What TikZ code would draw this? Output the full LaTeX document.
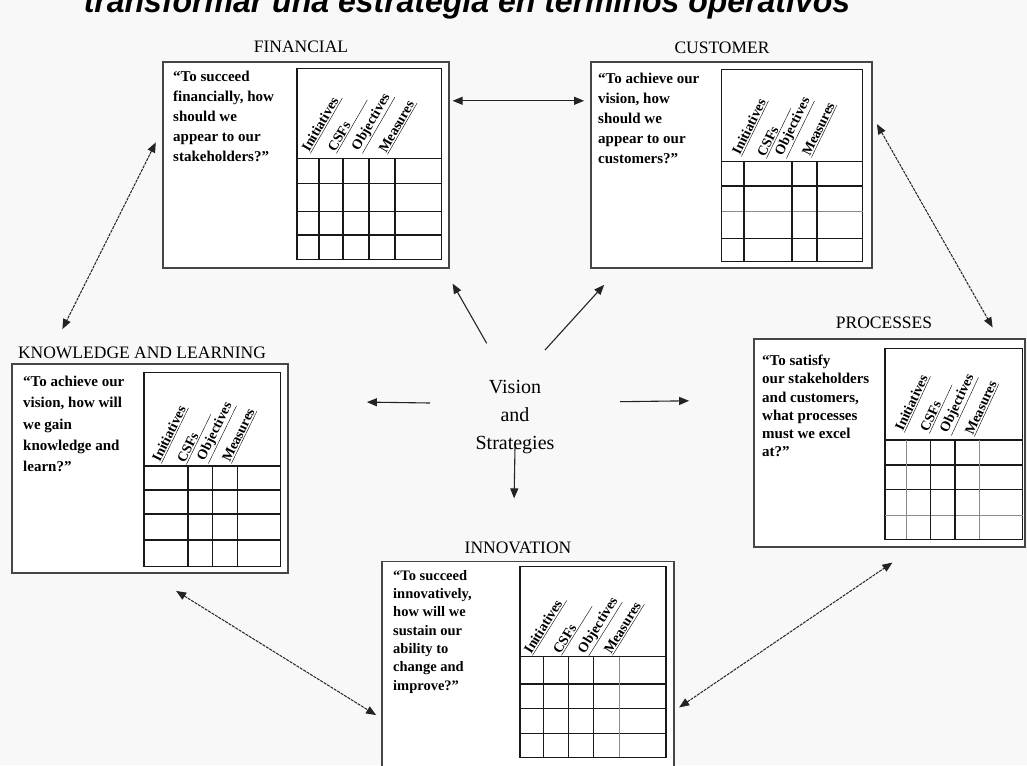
\documentclass[tikz,border=0pt]{standalone}
\usepackage{fontspec}
\setmainfont{Liberation Serif}
\newfontfamily\arialf{Liberation Sans}
\usetikzlibrary{arrows.meta,calc}
\definecolor{bg}{RGB}{248,248,248}
\definecolor{boxline}{RGB}{70,70,70}
\definecolor{gridline}{RGB}{25,25,25}
\definecolor{faint}{RGB}{140,140,140}
\definecolor{arrowc}{RGB}{35,35,35}
\tikzset{
  card/.style={draw=boxline, line width=1.8pt, fill=white, inner sep=0pt},
  grid/.style={draw=gridline, line width=1.2pt},
  fgrid/.style={draw=faint, line width=0.9pt},
  hdr/.style={rotate=#1, anchor=south west, inner sep=0pt, font=\fontsize{14}{14}\selectfont\bfseries},
  hdr/.default=60,
  body/.style={anchor=north west, align=left, inner sep=0pt},
  ttl/.style={inner sep=0pt, font=\fontsize{17.5}{20}\selectfont},
  arr/.style={-{Triangle[length=10pt,width=8pt]}, line width=1.1pt, draw=arrowc},
  darr/.style={{Triangle[length=10pt,width=8pt]}-{Triangle[length=10pt,width=8pt]}, line width=1pt, draw=arrowc},
  ddarr/.style={darr, dash pattern=on 3pt off 1pt}
}
\begin{document}
\begin{tikzpicture}[x=1pt,y=-1pt]
\clip (0,0) rectangle (1027,765);
\fill[bg] (0,0) rectangle (1027,765);

% top title (cut off)
\node[anchor=base, inner sep=0pt, font=\arialf\bfseries\itshape\fontsize{32}{36}\selectfont] (title) at (467,13) {transformar una estrategia en términos operativos};

% ---------- FINANCIAL ----------
\node[card, minimum width=286, minimum height=206] (fin) at (306,165) {};
\node[ttl] (finT) at (301,47) {FINANCIAL};
\draw[grid] (297,68.3) rectangle (441.7,259.3);
\foreach \y in {158.3,183.3,211.7,235} \draw[grid] (297,\y) -- (441.7,\y);
\foreach \x in {319,343,369,395} \draw[grid] (\x,158.3) -- (\x,259.3);
\node[hdr=60] (finH1) at (311,154) {\underline{Initiatives\hspace{4pt}}};
\node[hdr=60] (finH2) at (337,154) {\underline{CSFs\hspace{30pt}}};
\node[hdr=60] (finH3) at (363,154) {\underline{Objectives\hspace{2pt}}};
\node[hdr=60] (finH4) at (388,155) {\underline{Measures\hspace{2pt}}};
\node[body, font=\fontsize{15}{20}\selectfont\bfseries] (finQ) at (173,71) {“To succeed\\financially, how\\should we\\appear to our\\stakeholders?”};

% ---------- CUSTOMER ----------
\node[card, minimum width=281, minimum height=206] (cus) at (731.5,165) {};
\node[ttl] (cusT) at (722,48) {CUSTOMER};
\draw[grid] (721.7,69.3) rectangle (862.7,261.7);
\draw[grid] (721.7,161.7) -- (862.7,161.7);
\draw[grid] (721.7,186) -- (862.7,186);
\draw[fgrid] (721.7,211.7) -- (862.7,211.7);
\draw[grid] (721.7,238.3) -- (862.7,238.3);
\foreach \x in {744,792,817} \draw[grid] (\x,161.7) -- (\x,261.7);
\node[hdr=64] (cusH1) at (742,157) {\underline{Initiatives\hspace{2pt}}};
\node[hdr=64] (cusH2) at (767,159) {\underline{CSFs\hspace{24pt}}};
\node[hdr=64] (cusH3) at (787,159) {\underline{Objectives\hspace{1pt}}};
\node[hdr=64] (cusH4) at (812,158) {\underline{Measures\hspace{1pt}}};
\node[body, font=\fontsize{15}{20}\selectfont\bfseries] (cusQ) at (598,73) {“To achieve our\\vision, how\\should we\\appear to our\\customers?”};

% ---------- KNOWLEDGE AND LEARNING ----------
\node[card, minimum width=276, minimum height=209] (know) at (150,468.5) {};
\node[ttl] (knowT) at (142,353) {KNOWLEDGE AND LEARNING};
\draw[grid] (144,372.7) rectangle (280.7,566.7);
\foreach \y in {466,490,514,540} \draw[grid] (144,\y) -- (280.7,\y);
\foreach \x in {188,212.3,237.7} \draw[grid] (\x,466) -- (\x,566.7);
\node[hdr=64] (knowH1) at (162,464) {\underline{Initiatives\hspace{2pt}}};
\node[hdr=64] (knowH2) at (187,465) {\underline{CSFs\hspace{24pt}}};
\node[hdr=64] (knowH3) at (209,464) {\underline{Objectives\hspace{1pt}}};
\node[hdr=64] (knowH4) at (232,464) {\underline{Measures\hspace{1pt}}};
\node[body, font=\fontsize{15}{21.2}\selectfont\bfseries] (knowQ) at (23,376) {“To achieve our\\vision, how will\\we gain\\knowledge and\\learn?”};

% ---------- PROCESSES ----------
\node[card, minimum width=271, minimum height=207.4] (proc) at (889.5,443) {};
\node[ttl] (procT) at (884,323) {PROCESSES};
\draw[grid] (885,348.3) rectangle (1022.7,539.3);
\draw[grid] (885,440) -- (1022.7,440);
\draw[grid] (885,465) -- (1022.7,465);
\draw[grid] (885,489.3) -- (1022.7,489.3);
\draw[fgrid] (885,515) -- (1022.7,515);
\draw[fgrid] (906.7,440) -- (906.7,539.3);
\draw[grid] (930.7,440) -- (930.7,539.3);
\draw[grid] (955,440) -- (955,539.3);
\draw[fgrid] (979.3,440) -- (979.3,539.3);
\node[hdr=65] (procH1) at (905,433) {\underline{Initiatives\hspace{2pt}}};
\node[hdr=65] (procH2) at (930,434) {\underline{CSFs\hspace{22pt}}};
\node[hdr=65] (procH3) at (952,436) {\underline{Objectives\hspace{1pt}}};
\node[hdr=65] (procH4) at (975,437) {\underline{Measures\hspace{1pt}}};
\node[body, font=\fontsize{15}{18.2}\selectfont\bfseries] (procQ) at (762,355) {“To satisfy\\our stakeholders\\and customers,\\what processes\\must we excel\\at?”};

% ---------- INNOVATION ----------
\node[card, minimum width=292.3, minimum height=223.6] (inn) at (527.85,673.2) {};
\node[ttl] (innT) at (518,548) {INNOVATION};
\draw[grid] (520,566.7) rectangle (666,757.3);
\foreach \y in {656.7,684,708.3,733.3} \draw[grid] (520,\y) -- (666,\y);
\foreach \x in {543.3,568.3,593.3} \draw[grid] (\x,656.7) -- (\x,757.3);
\draw[fgrid] (619.3,656.7) -- (619.3,757.3);
\node[hdr=58] (innH1) at (533,656) {\underline{Initiatives\hspace{5pt}}};
\node[hdr=58] (innH2) at (562,656) {\underline{CSFs\hspace{26pt}}};
\node[hdr=58] (innH3) at (589,657) {\underline{Objectives\hspace{1pt}}};
\node[hdr=58] (innH4) at (613,656) {\underline{Measures\hspace{3pt}}};
\node[body, font=\fontsize{14.5}{18.3}\selectfont\bfseries] (innQ) at (393,570) {“To succeed\\innovatively,\\how will we\\sustain our\\ability to\\change and\\improve?”};

% ---------- CENTER ----------
\node[anchor=north, align=center, inner sep=0pt, font=\fontsize{20}{28}\selectfont] (vs) at (515,380) {Vision\\and\\Strategies};

\draw[arr] ($(vs.north)+(-28.3,-36.7)$) -- ($(fin.south east)+(2.7,14.7)$);
\draw[arr] ($(vs.north)+(30,-30)$) -- ($(cus.south west)+(14,16)$);
\draw[arr] ($(vs.north)+(-85,23)$) -- ($(know.north east)+(78,39)$);
\draw[arr] ($(vs.north)+(105,21.7)$) -- ($(proc.north west)+(-64,62.4)$);
\draw[arr] ($(vs.north)+(0,67)$) -- ($(inn.north west)+(133.3,-62.1)$);

% ---------- double arrows ----------
\draw[darr] ($(fin.north east)+(2.7,39.7)$) -- ($(cus.north west)+(-6,39.7)$);
\draw[ddarr] ($(fin.north west)+(-6.3,81.3)$) -- ($(know.north west)+(51.3,-34)$);
\draw[ddarr] ($(cus.north east)+(4,63)$) -- ($(proc.north east)+(-33.3,-11)$);
\draw[ddarr] ($(know.south west)+(165,17)$) -- ($(inn.north west)+(-4.7,154.6)$);
\draw[ddarr] ($(inn.north east)+(4.3,146.9)$) -- ($(proc.south west)+(139.3,15)$);
\end{tikzpicture}
\end{document}
